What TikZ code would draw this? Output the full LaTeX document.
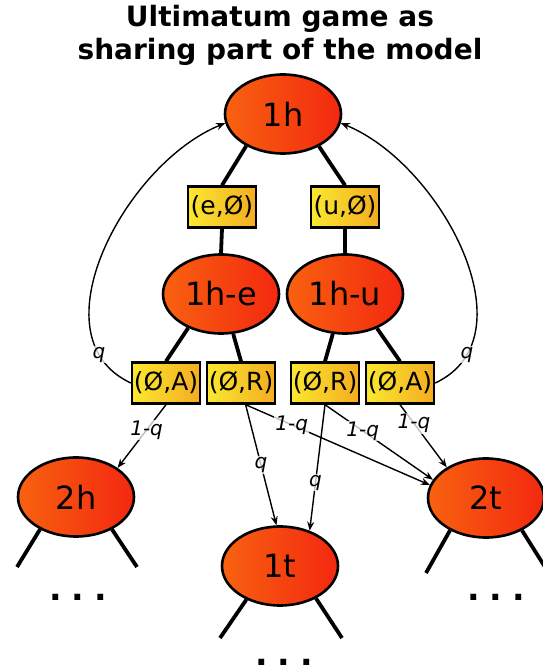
\documentclass[tikz,border=0pt]{standalone}
\usepackage{fontspec}
\setmainfont{DejaVu Sans}
\usetikzlibrary{arrows.meta,shapes.geometric}
\definecolor{stl}{RGB}{248,98,16}
\definecolor{str}{RGB}{243,40,16}
\definecolor{acl}{RGB}{250,232,48}
\definecolor{acr}{RGB}{244,172,32}
\tikzset{stt/.style={ellipse,draw,line width=2.6pt,left color=stl,right color=str,minimum width=116pt,minimum height=79pt,inner sep=0pt,font=\fontsize{32}{32}\selectfont}}
\tikzset{act/.style={rectangle,draw,line width=2.4pt,left color=acl,right color=acr,minimum width=68pt,minimum height=41pt,inner sep=0pt,font=\fontsize{25}{25}\selectfont}}
\tikzset{br/.style={line width=3.8pt}}
\tikzset{tr/.style={line width=1.4pt,-{Stealth[length=9pt,width=7pt,inset=3pt]}}}
\tikzset{l/.style={font=\fontsize{20}{20}\selectfont\itshape,fill=white,fill opacity=0.75,text opacity=1,inner sep=1pt}}
\tikzset{more/.style={font=\fontsize{33}{33}\selectfont\bfseries,anchor=base,inner sep=0pt}}

\begin{document}
\begin{tikzpicture}[x=1pt,y=1pt]
  \useasboundingbox (0,0) rectangle (543,670);
  \node [font=\fontsize{28}{33}\selectfont\bfseries,align=center] (title) at (280,635)
    {Ultimatum game as\\sharing part of the model};
  % states
  \node [stt] (h1) at (283,556) {1h};
  \node [stt] (he) at (221,376) {1h-e};
  \node [stt] (hu) at (345,376) {1h-u};
  \node [stt] (h2) at (76,173) {2h};
  \node [stt] (t1) at (280,104) {1t};
  \node [stt] (t2) at (486,172) {2t};
  % actions
  \node [act] (eo) at (222,463) {(e,Ø)};
  \node [act] (uo) at (345,463) {(u,Ø)};
  \node [act] (oal) at (166,287) {(Ø,A)};
  \node [act] (orl) at (241,287) {(Ø,R)};
  \node [act] (orr) at (325,287) {(Ø,R)};
  \node [act] (oar) at (400,287) {(Ø,A)};
  % tree
  \draw [br] (h1.221) -- (eo.north);
  \draw [br] (h1.318) -- (uo.north);
  \draw [br] (eo.south) -- (he.north);
  \draw [br] (uo.south) -- (hu.north);
  \draw [br] (he.226) -- (oal.north);
  \draw [br] (he.287) -- (orl.north);
  \draw [br] (hu.253) -- (orr.north);
  \draw [br] (hu.313) -- (oar.north);
  % transitions
  \draw [tr] (oal.west) to [out=155,in=202] node [l,pos=0.15] {q} (h1.189);
  \draw [tr] (oar.east) to [out=25,in=-22] node [l,pos=0.15] {q} (h1.351);
  \draw [tr] (oal.south) -- node [l,pos=0.4] {1-q} (h2.35);
  \draw [tr] (orl.-78) -- node [l,pos=0.5] {q} (t1.95);
  \draw [tr] (orl.-78) -- node [l,pos=0.25] {1-q} (t2.167);
  \draw [tr] (orr.south) -- node [l,pos=0.62] {q} (t1.50);
  \draw [tr] (orr.south) -- node [l,pos=0.35] {1-q} (t2.161);
  \draw [tr] (oar.south) -- node [l,pos=0.3] {1-q} (t2.142);
  % continuations
  \coordinate (h2l) at (17,103);
  \coordinate (h2r) at (137,103);
  \coordinate (t1l) at (220,32);
  \coordinate (t1r) at (342,32);
  \coordinate (t2l) at (426,97);
  \coordinate (t2r) at (545,103);
  \draw [br] (h2.222) -- (h2l);
  \draw [br] (h2.318) -- (h2r);
  \draw [br] (t1.225) -- (t1l);
  \draw [br] (t1.318) -- (t1r);
  \draw [br] (t2.222) -- (t2l);
  \draw [br] (t2.318) -- (t2r);
  \node [more] (h2d) at (78,69) {.\hspace{10pt}.\hspace{10pt}.};
  \node [more] (t1d) at (284,5) {.\hspace{10pt}.\hspace{10pt}.};
  \node [more] (t2d) at (496,69) {.\hspace{10pt}.\hspace{10pt}.};
\end{tikzpicture}
\end{document}
